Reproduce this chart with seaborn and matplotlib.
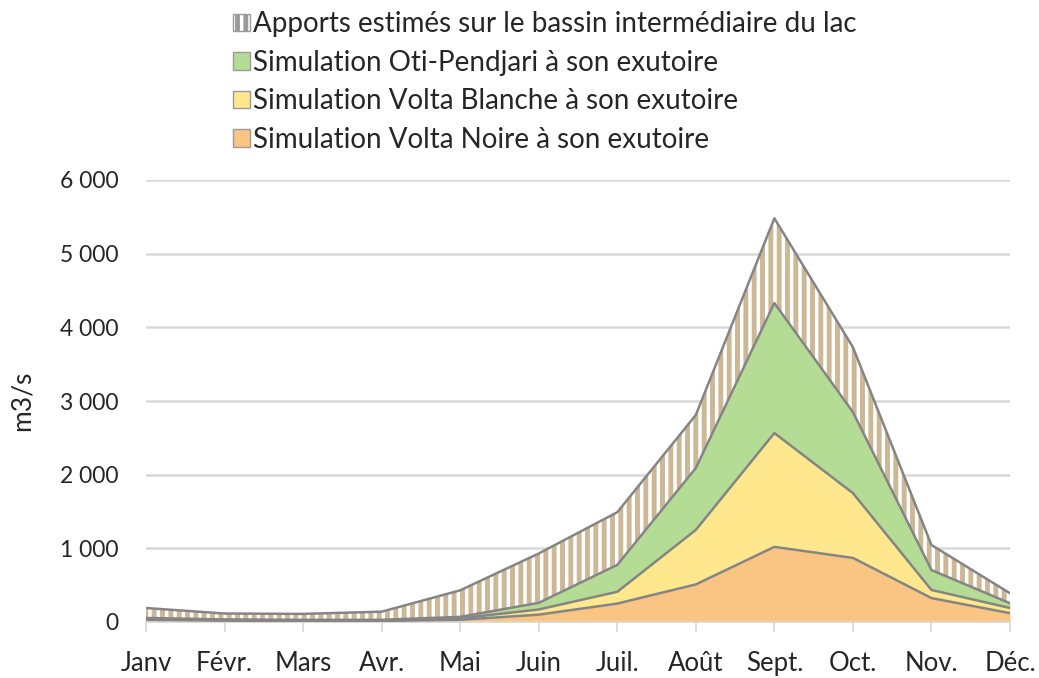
import numpy as np
import pandas as pd
import seaborn as sns
import matplotlib.pyplot as plt
from matplotlib.patches import Patch

months = ["Janv", "Févr.", "Mars", "Avr.", "Mai", "Juin", "Juil.", "Août", "Sept.", "Oct.", "Nov.", "Déc."]

## debits par composante (m3/s)
volta_noire = [30, 20, 15, 15, 30, 100, 250, 510, 1020, 870, 325, 120]
volta_blanche = [10, 5, 5, 5, 20, 70, 160, 740, 1545, 880, 110, 70]
oti_pendjari = [15, 10, 10, 10, 20, 90, 365, 840, 1765, 1100, 270, 65]
apports_lac = [135, 80, 80, 110, 360, 670, 715, 720, 1150, 880, 340, 135]

series_names = ["Simulation Volta Noire à son exutoire",
                "Simulation Volta Blanche à son exutoire",
                "Simulation Oti-Pendjari à son exutoire",
                "Apports estimés sur le bassin intermédiaire du lac"]
colors = ["#FAC483", "#FEE78C", "#B5DC95", "white"]

ytick_values = [0, 1000, 2000, 3000, 4000, 5000, 6000]
ytick_labels = ["0", "1 000", "2 000", "3 000", "4 000", "5 000", "6 000"]

sns.set_theme(style="white")
plt.rcParams['font.family'] = ['Lato', 'DejaVu Sans']
plt.rcParams['hatch.linewidth'] = 3.5
plt.rcParams['hatch.color'] = '#CDB895'

df = pd.DataFrame({series_names[0]: volta_noire, series_names[1]: volta_blanche,
                   series_names[2]: oti_pendjari, series_names[3]: apports_lac}, index=months)
cum = df.cumsum(axis=1)
x = np.arange(len(months))

fig = plt.figure(figsize=(10.39, 6.78), dpi=100)
ax = fig.add_axes([146 / 1039, 1 - 622 / 678, (1010 - 146) / 1039, (622 - 180) / 678])

line_col = "#858585"
txt_col = "#262626"
lower = np.zeros(len(months))
for i, name in enumerate(series_names):
    upper = cum[name].values
    if i == 3:
        ax.fill_between(x, lower, upper, facecolor="white", edgecolor="#CDB895",
                        hatch="||", linewidth=0, zorder=2)
    else:
        ax.fill_between(x, lower, upper, facecolor=colors[i], linewidth=0, zorder=2)
    sns.lineplot(x=x, y=upper, ax=ax, color=line_col, linewidth=1.8, zorder=3, legend=False)
    lower = upper

ax.set_xlim(0, len(months) - 1)
ax.set_ylim(0, 6000)
ax.set_yticks(ytick_values)
ax.set_yticklabels(ytick_labels)
ax.set_xticks(x)
ax.set_xticklabels(months)
ax.yaxis.grid(True, color="#D9D9D9", linewidth=1.8)
ax.set_axisbelow(True)
for s in ["top", "right", "left"]:
    ax.spines[s].set_visible(False)
ax.spines["bottom"].set_color("#D9D9D9")
ax.spines["bottom"].set_linewidth(1.2)
ax.tick_params(axis="y", length=0, pad=20, labelsize=16.5, labelcolor=txt_col)
ax.tick_params(axis="x", bottom=True, direction="out", length=7, width=1.2, color="#D9D9D9",
               pad=14, labelsize=18.5, labelcolor=txt_col)
ax.set_ylabel("m3/s", fontsize=19, color=txt_col, labelpad=18)

## legende (ordre inverse)
handles = []
for i in [3, 2, 1, 0]:
    if i == 3:
        handles.append(Patch(facecolor="white", edgecolor="#9a9a9a", hatch="||", linewidth=1,
                             label=series_names[i]))
    else:
        handles.append(Patch(facecolor=colors[i], edgecolor="#9a9a9a", linewidth=1,
                             label=series_names[i]))
fig.legend(handles=handles, loc="upper left", bbox_to_anchor=(222 / 1039, 1.0),
           frameon=False, fontsize=20, handlelength=0.6, handleheight=0.6,
           handletextpad=0.12, labelspacing=0.45, labelcolor=txt_col, borderaxespad=0)

fig.savefig("out.png", dpi=100)
